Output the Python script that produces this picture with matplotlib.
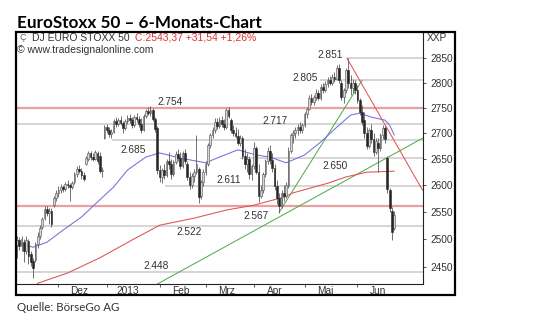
import numpy as np
import pandas as pd
import matplotlib
matplotlib.use('Agg')
import matplotlib.pyplot as plt
from matplotlib.patches import Rectangle
from matplotlib.ticker import NullLocator

# ---------------- data ----------------
dates = pd.bdate_range('2012-11-07', '2013-06-25')

opens = [2489, 2498, 2488, 2495, 2478, 2496, 2472, 2460, 2462, 2490,
         2506, 2521, 2538, 2555, 2548, 2552, 2562, 2575, 2585, 2590,
         2596, 2592, 2602, 2600, 2596, 2605, 2620, 2630, 2626, 2618,
         2640, 2650, 2660, 2654, 2650, 2660, 2655, 2626, 2690, 2712,
         2705, 2698, 2702, 2724, 2718, 2726, 2720, 2710, 2724, 2730,
         2725, 2716, 2732, 2728, 2718, 2706, 2734, 2744, 2740, 2746,
         2728, 2710, 2628, 2615, 2628, 2618, 2645, 2640, 2620, 2644,
         2658, 2652, 2636, 2660, 2640, 2615, 2600, 2616, 2624, 2630,
         2580, 2605, 2625, 2640, 2676, 2695, 2705, 2722, 2714, 2726,
         2718, 2712, 2745, 2725, 2706, 2700, 2694, 2680, 2690, 2656,
         2640, 2650, 2620, 2635, 2670, 2625, 2580, 2590, 2620, 2645,
         2665, 2648, 2632, 2598, 2575, 2560, 2585, 2580, 2598, 2665,
         2695, 2700, 2705, 2712, 2706, 2716, 2738, 2748, 2770, 2762,
         2772, 2780, 2770, 2792, 2786, 2798, 2806, 2800, 2812, 2808,
         2830, 2800, 2772, 2785, 2825, 2800, 2790, 2800, 2785, 2766,
         2742, 2725, 2700, 2675, 2705, 2688, 2662, 2680, 2670, 2695,
         2710, 2652, 2590, 2552, 2520]
highs = [2505, 2503, 2505, 2500, 2506, 2500, 2478, 2466, 2495, 2512,
         2525, 2540, 2560, 2560, 2556, 2556, 2580, 2590, 2597, 2602,
         2600, 2606, 2610, 2604, 2608, 2625, 2636, 2638, 2632, 2624,
         2656, 2665, 2664, 2660, 2666, 2664, 2662, 2634, 2716, 2718,
         2712, 2708, 2728, 2732, 2730, 2734, 2724, 2728, 2736, 2738,
         2732, 2736, 2740, 2734, 2730, 2738, 2748, 2752, 2754, 2750,
         2732, 2714, 2638, 2632, 2640, 2650, 2662, 2650, 2648, 2664,
         2668, 2662, 2664, 2668, 2646, 2625, 2622, 2630, 2695, 2634,
         2610, 2630, 2645, 2680, 2700, 2712, 2730, 2730, 2732, 2734,
         2728, 2750, 2752, 2730, 2716, 2712, 2708, 2696, 2694, 2668,
         2660, 2655, 2640, 2682, 2674, 2640, 2600, 2625, 2650, 2672,
         2676, 2660, 2640, 2610, 2585, 2590, 2600, 2605, 2672, 2700,
         2706, 2712, 2718, 2722, 2720, 2742, 2752, 2775, 2778, 2776,
         2788, 2786, 2798, 2800, 2804, 2812, 2814, 2818, 2822, 2836,
         2838, 2805, 2790, 2830, 2851, 2815, 2808, 2806, 2795, 2770,
         2756, 2742, 2712, 2710, 2718, 2700, 2690, 2690, 2700, 2716,
         2714, 2656, 2594, 2558, 2552]
lows = [2465, 2480, 2478, 2458, 2472, 2455, 2452, 2430, 2458, 2484,
        2500, 2518, 2534, 2542, 2527, 2522, 2558, 2570, 2578, 2585,
        2586, 2588, 2595, 2570, 2592, 2602, 2615, 2622, 2612, 2608,
        2638, 2645, 2648, 2645, 2648, 2640, 2622, 2615, 2688, 2700,
        2692, 2690, 2700, 2712, 2714, 2715, 2700, 2706, 2718, 2720,
        2710, 2712, 2722, 2712, 2700, 2704, 2730, 2736, 2734, 2724,
        2702, 2620, 2606, 2604, 2612, 2614, 2630, 2612, 2616, 2640,
        2646, 2630, 2632, 2640, 2610, 2592, 2595, 2605, 2620, 2566,
        2574, 2598, 2618, 2636, 2670, 2690, 2700, 2708, 2710, 2712,
        2706, 2708, 2730, 2700, 2694, 2690, 2676, 2674, 2650, 2630,
        2624, 2612, 2610, 2630, 2620, 2568, 2575, 2585, 2615, 2640,
        2640, 2625, 2590, 2565, 2548, 2556, 2570, 2575, 2595, 2660,
        2680, 2690, 2696, 2700, 2700, 2712, 2730, 2745, 2755, 2756,
        2766, 2765, 2766, 2780, 2782, 2792, 2795, 2796, 2802, 2805,
        2800, 2765, 2760, 2780, 2790, 2775, 2780, 2778, 2760, 2735,
        2715, 2690, 2668, 2670, 2680, 2655, 2658, 2625, 2665, 2688,
        2680, 2585, 2550, 2498, 2516]
closes = [2498, 2488, 2500, 2478, 2498, 2470, 2458, 2448, 2490, 2506,
          2520, 2536, 2555, 2548, 2552, 2528, 2575, 2585, 2590, 2596,
          2592, 2602, 2600, 2596, 2604, 2620, 2630, 2626, 2618, 2612,
          2652, 2660, 2654, 2650, 2662, 2645, 2626, 2628, 2712, 2705,
          2698, 2702, 2724, 2718, 2726, 2720, 2710, 2724, 2730, 2725,
          2716, 2732, 2728, 2718, 2706, 2734, 2744, 2740, 2746, 2728,
          2708, 2628, 2615, 2628, 2618, 2645, 2640, 2620, 2644, 2658,
          2652, 2636, 2660, 2645, 2615, 2600, 2616, 2624, 2640, 2578,
          2605, 2625, 2640, 2676, 2695, 2705, 2722, 2714, 2726, 2718,
          2712, 2745, 2734, 2706, 2700, 2694, 2680, 2690, 2656, 2640,
          2650, 2620, 2635, 2670, 2625, 2580, 2590, 2620, 2645, 2665,
          2648, 2632, 2598, 2575, 2560, 2585, 2580, 2600, 2665, 2695,
          2700, 2705, 2712, 2706, 2716, 2738, 2748, 2770, 2762, 2772,
          2780, 2770, 2792, 2786, 2798, 2806, 2800, 2812, 2808, 2830,
          2805, 2772, 2785, 2825, 2800, 2790, 2800, 2785, 2766, 2742,
          2722, 2700, 2675, 2705, 2688, 2662, 2684, 2670, 2695, 2710,
          2688, 2592, 2556, 2511.83, 2543.37]

# moving averages (bar index, value)
ma_blue_idx = [0, 7, 13, 20, 28, 35, 42, 48, 56, 62, 71, 82, 88, 96, 104,
               110, 117, 125, 132, 139, 145, 149, 154, 160, 162, 164]
ma_blue_val = [2493, 2485, 2494, 2516, 2540, 2568, 2596, 2628, 2653, 2661,
               2651, 2642, 2653, 2667, 2657, 2653, 2642, 2657, 2682, 2711,
               2735, 2739, 2731, 2725, 2715, 2696]
ma_red_idx = [8, 9, 22, 36, 50, 62, 77, 91, 103, 116, 120, 135, 143, 152, 164]
ma_red_val = [2415, 2421, 2439, 2466, 2498, 2525, 2538, 2553, 2562, 2577,
              2585, 2603, 2615, 2624, 2626]

# horizontal levels: value, start index, kind
level_vals = [2850, 2805, 2750, 2717, 2686, 2651, 2598, 2560, 2524, 2440]
level_start = [143.5, 131.7, None, None, 41.3, 97.0, 64.3, None, None, None]
level_kind = ['g', 'g', 'r', 'g', 'g', 'g', 'g', 'r', 'g', 'g']

level_labels = ['2.851', '2.805', '2.754', '2.717', '2.685', '2.611',
                '2.650', '2.567', '2.522', '2.448']
label_pos = [(136.1, 2857), (125.2, 2810), (66.5, 2761), (112.2, 2723),
             (50.4, 2667), (92.2, 2609), (138.3, 2636), (103.9, 2542),
             (74.8, 2512), (60.4, 2451)]

# trend lines (index, value) endpoints
green_long = [(61.0, 2419.6), (176.5, 2690)]
green_steep = [(114.0, 2549), (150.0, 2805)]
red_down = [(143.5, 2850), (176.3, 2590)]

yticks = [2450, 2500, 2550, 2600, 2650, 2700, 2750, 2800, 2850]
month_names = ['Dez', '2013', 'Feb', 'Mrz', 'Apr', 'Mai', 'Jun']

# ---------------- figure ----------------
W, H = 540, 320
fig = plt.figure(figsize=(5.4, 3.2), dpi=100)
fig.patch.set_facecolor('white')

def fx(x):
    return x / W

def fy(y):
    return 1 - y / H

ax = fig.add_axes([fx(16), fy(284), (423 - 16) / W, (284 - 32) / H])
ax.set_yscale('log')
ax.set_ylim(2419.6, 2905)
ax.set_xlim(-0.43, 176.5)

FONT = 'Liberation Sans'
FS = 7.3
TXT = '#333333'

xmin, xmax = ax.get_xlim()
for v, s, k in zip(level_vals, level_start, level_kind):
    s0 = xmin if s is None else s
    if k == 'r':
        ax.hlines(v, s0, xmax, color='#eaa0a0', lw=1.6, zorder=1)
    else:
        ax.hlines(v, s0, xmax, color='#d2d2d2', lw=1.3, zorder=1)

# trend lines
for (p, c) in [(green_long, '#52ad52'), (green_steep, '#52ad52'), (red_down, '#e45555')]:
    ax.plot([p[0][0], p[1][0]], [p[0][1], p[1][1]], color=c, lw=0.75, zorder=2)

# moving averages
ax.plot(ma_red_idx, ma_red_val, color='#e25050', lw=0.75, zorder=2)
ax.plot(ma_blue_idx, ma_blue_val, color='#7070e0', lw=0.75, zorder=2)

# candles
idx = np.arange(len(closes))
o = np.array(opens, float)
h = np.array(highs, float)
l = np.array(lows, float)
c = np.array(closes, float)
ax.vlines(idx, l, h, color='#5a5a5a', lw=0.6, zorder=3)
up = c >= o
dn = ~up
ax.bar(idx[up], c[up] - o[up], bottom=o[up], width=0.75, facecolor='#d6d6d6',
       edgecolor='#505050', linewidth=0.4, zorder=4)
ax.bar(idx[dn], o[dn] - c[dn], bottom=c[dn], width=0.75, facecolor='#262626',
       edgecolor='#262626', linewidth=0.4, zorder=4)

# level labels
for t, (xi, yv) in zip(level_labels, label_pos):
    ax.text(xi, yv, t, fontsize=FS, family=FONT, color=TXT, ha='center',
            va='center', zorder=5)

# axes styling
for sp in ['left', 'top']:
    ax.spines[sp].set_visible(False)
for sp in ['right', 'bottom']:
    ax.spines[sp].set_color('#222222')
    ax.spines[sp].set_linewidth(0.8)

ax.yaxis.tick_right()
ax.yaxis.set_minor_locator(NullLocator())
ax.set_yticks(yticks)
ax.set_yticklabels([str(t) for t in yticks])
ax.tick_params(axis='y', which='both', length=2, pad=3, labelsize=FS,
               colors=TXT, width=0.6)
for lab in ax.get_yticklabels():
    lab.set_family(FONT)

months = dates.month
starts = [i for i in range(1, len(dates)) if months[i] != months[i - 1]]
ax.set_xticks(starts)
ax.set_xticklabels([''] * len(starts))
ax.set_xticks([s + 9 for s in starts], minor=True)
ax.set_xticklabels(month_names, minor=True)
ax.tick_params(axis='x', which='major', length=2.5, width=0.6, colors='#444444')
ax.tick_params(axis='x', which='minor', length=0, pad=1.5, labelsize=FS,
               labelcolor=TXT)
for lab in ax.get_xticklabels(minor=True):
    lab.set_family(FONT)

# outer frame
fig.add_artist(Rectangle((fx(16), fy(295)), 439 / W, 263 / H,
                         transform=fig.transFigure, fill=False,
                         lw=1.6, ec='black', zorder=10))

# header texts
fig.text(fx(437), fy(38), 'XXP', fontsize=FS, family=FONT, color=TXT,
         ha='center', va='center')
fig.text(fx(19), fy(38), 'Ç', fontsize=6.5, family=FONT, color='#666666',
         ha='left', va='center')
fig.text(fx(32), fy(38), 'DJ EURO STOXX 50', fontsize=7.5, family=FONT,
         color='#333333', ha='left', va='center')
fig.text(fx(135), fy(38), 'C:2543,37 +31,54 +1,26%', fontsize=7.5,
         family=FONT, color='#e03030', ha='left', va='center')
fig.text(fx(17), fy(50), '© www.tradesignalonline.com', fontsize=7.5,
         family=FONT, color='#333333', ha='left', va='center')

fig.text(fx(17), fy(27.5), 'EuroStoxx 50 – 6-Monats-Chart', fontsize=12.3,
         family='Lato', weight='bold', color='black', ha='left',
         va='baseline')
fig.text(fx(17), fy(311), 'Quelle: BörseGo AG', fontsize=8.3, family='Lato',
         color='#333333', ha='left', va='baseline')

fig.savefig('out.png', dpi=100)
